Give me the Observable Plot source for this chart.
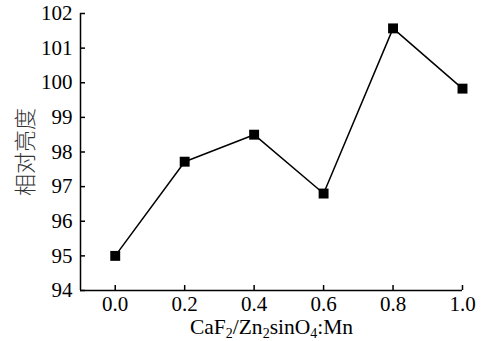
<!DOCTYPE html>
<html>
<head>
<meta charset="utf-8">
<script src="https://cdn.jsdelivr.net/npm/d3@7"></script>
<script src="https://cdn.jsdelivr.net/npm/@observablehq/plot@0.6"></script>
<style>
body { margin: 0; background: #fff; }
svg { font-family: "Liberation Serif", serif; }
</style>
</head>
<body>
<div id="chart"></div>
<script>
const ratios = [0.0, 0.2, 0.4, 0.6, 0.8, 1.0];
const brightness = [95.0, 97.72, 98.5, 96.8, 101.57, 99.83];
const xTicks = [0.0, 0.2, 0.4, 0.6, 0.8, 1.0];
const yTicks = [94, 95, 96, 97, 98, 99, 100, 101, 102];
const yLabel = "相对亮度";

const data = ratios.map((r, i) => ({x: r, y: brightness[i]}));

const chart = Plot.plot({
  width: 489,
  height: 341,
  marginTop: 13,
  marginBottom: 51,
  marginLeft: 80,
  marginRight: 27,
  style: {background: "#fff", color: "#000", fontFamily: "Liberation Serif, serif"},
  x: {domain: [-0.1, 1.0]},
  y: {domain: [94, 102]},
  marks: [
    Plot.axisY({ticks: yTicks, tickSize: -5, tickPadding: 13, fontSize: 21, label: null, strokeWidth: 1.5}),
    Plot.axisX({ticks: xTicks, tickSize: -5, tickPadding: 11, fontSize: 21, tickFormat: d3.format(".1f"), label: null, strokeWidth: 1.5}),
    Plot.ruleX([-0.1], {stroke: "#000", strokeWidth: 1.5}),
    Plot.ruleY([94], {stroke: "#000", strokeWidth: 1.5}),
    Plot.line(data, {x: "x", y: "y", stroke: "#000", strokeWidth: 1.5}),
    Plot.dot(data, {x: "x", y: "y", symbol: "square", fill: "#000", stroke: null, r: 5.6}),
    Plot.text([yLabel], {frameAnchor: "left", textAnchor: "middle", rotate: -90, dx: -55, fontSize: 22, fontFamily: "Noto Sans CJK SC", fontWeight: 300, fill: "#333", className: "ylab"}),
    Plot.text(["xlabel"], {frameAnchor: "bottom", dy: 43, fontSize: 21.5, fill: "#000", className: "xlab"})
  ]
});
document.getElementById("chart").appendChild(chart);

// Build x label with subscripts: CaF₂/Zn₂sinO₄:Mn
const parts = [["CaF", false], ["2", true], ["/Zn", false], ["2", true], ["sinO", false], ["4", true], [":Mn", false]];
const t = d3.select(chart).select("g.xlab text");
t.text(null);
parts.forEach(([s, sub]) => {
  const ts = t.append("tspan").text(s);
  if (sub) ts.attr("font-size", 14).attr("baseline-shift", "-30%");
});
</script>
</body>
</html>
